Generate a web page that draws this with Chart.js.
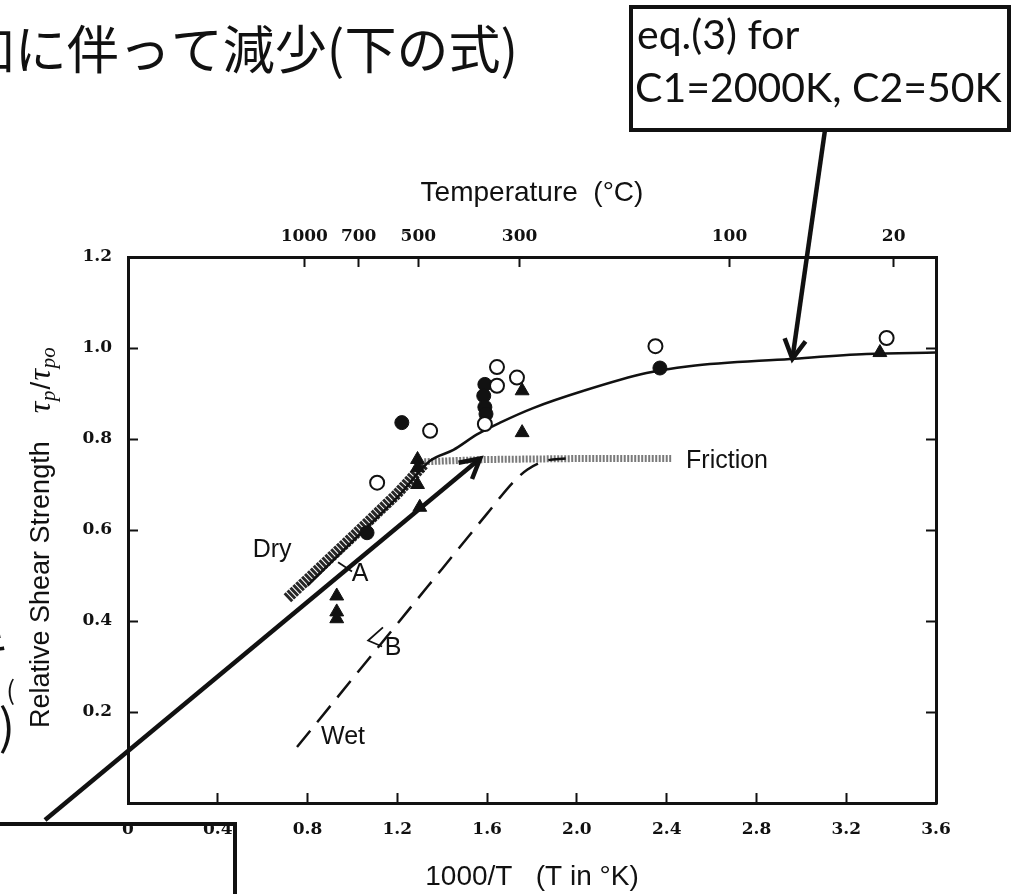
<!DOCTYPE html>
<html>
<head>
<meta charset="utf-8">
<script src="https://cdn.jsdelivr.net/npm/chart.js@4.4.0/dist/chart.umd.min.js"></script>
<style>
  html, body { margin: 0; padding: 0; background: #fff; }
  #wrap { width: 1014px; height: 894px; overflow: hidden; }
</style>
</head>
<body>
<div id="wrap"><canvas id="chart" width="1014" height="894"></canvas></div>
<script>
// axis ticks (x = 1000/T, y = tau_p / tau_p0)
const xTicks = [0, 0.4, 0.8, 1.2, 1.6, 2.0, 2.4, 2.8, 3.2, 3.6];
const xTickLabels = ['0', '0.4', '0.8', '1.2', '1.6', '2.0', '2.4', '2.8', '3.2', '3.6'];
const yTicks = [0.2, 0.4, 0.6, 0.8, 1.0, 1.2];
const yTickLabels = ['0.2', '0.4', '0.6', '0.8', '1.0', '1.2'];
const tempTicksC = [1000, 700, 500, 300, 100, 20];

// measured points
const openX = [1.11, 1.346, 1.59, 1.644, 1.644, 1.733, 2.35, 3.38];
const openY = [0.704, 0.818, 0.833, 0.958, 0.917, 0.935, 1.004, 1.022];
const filledX = [1.065, 1.22, 1.59, 1.585, 1.59, 1.595, 2.37];
const filledY = [0.594, 0.836, 0.92, 0.895, 0.87, 0.855, 0.956];
const triX = [0.93, 0.93, 0.93, 1.29, 1.29, 1.30, 1.29, 1.756, 1.756, 3.35];
const triY = [0.455, 0.42, 0.405, 0.755, 0.70, 0.65, 0.737, 0.906, 0.814, 0.99];

// curve A (eq.3), curve B (wet), dry / friction bands
const curveAX = [0.80, 1.0, 1.2, 1.346, 1.45, 1.555, 1.658, 1.805, 2.03, 2.31, 2.5, 2.95, 3.29, 3.6];
const curveAY = [0.478, 0.575, 0.672, 0.752, 0.776, 0.81, 0.836, 0.868, 0.906, 0.945, 0.96, 0.976, 0.987, 0.99];
const curveBX = [0.753, 1.0, 1.2, 1.4, 1.6, 1.716, 1.78, 1.86, 1.95];
const curveBY = [0.123, 0.273, 0.394, 0.515, 0.636, 0.705, 0.733, 0.752, 0.757];
const dryX = [0.71, 1.0, 1.2, 1.32];
const dryY = [0.45, 0.585, 0.68, 0.745];
const frictionX = [1.32, 1.6, 2.0, 2.42];
const frictionY = [0.75, 0.755, 0.757, 0.757];

// text on the curves
const curveLabels = [
  { text: 'Dry', x: 0.642, y: 0.555 },
  { text: 'A', x: 1.034, y: 0.504 },
  { text: 'B', x: 1.181, y: 0.340 },
  { text: 'Wet', x: 0.958, y: 0.145 },
  { text: 'Friction', x: 2.669, y: 0.752 }
];
const leaderA = [[0.936, 0.529], [0.998, 0.509]];
const leaderB = [[1.136, 0.386], [1.07, 0.357], [1.132, 0.344]];
const arrowTipEq = [2.96, 0.976];
const arrowTipFriction = [1.569, 0.757];

const pts = (xs, ys) => xs.map((v, i) => ({ x: v, y: ys[i] }));
const ink = '#111';
const tickFont = { family: 'DejaVu Serif', size: 17, weight: 'bold' };
const titleFont = { family: 'Liberation Sans', size: 28 };

function inwardGrid() {
  return { drawOnChartArea: false, drawTicks: true, tickLength: -10, tickWidth: 2, tickColor: ink };
}
const frame = { display: true, color: ink, width: 3 };

function drawArrow(ctx, x1, y1, x2, y2) {
  ctx.beginPath();
  ctx.moveTo(x1, y1);
  ctx.lineTo(x2, y2);
  ctx.stroke();
  const a = Math.atan2(y2 - y1, x2 - x1);
  const len = 22;
  ctx.beginPath();
  ctx.moveTo(x2 - len * Math.cos(a - 0.5), y2 - len * Math.sin(a - 0.5));
  ctx.lineTo(x2, y2);
  ctx.lineTo(x2 - len * Math.cos(a + 0.5), y2 - len * Math.sin(a + 0.5));
  ctx.stroke();
}

const overlay = {
  id: 'overlay',
  afterDraw(chart) {
    const { ctx, scales: { x, y } } = chart;
    const px = v => x.getPixelForValue(v);
    const py = v => y.getPixelForValue(v);
    ctx.save();
    ctx.fillStyle = ink;
    ctx.strokeStyle = ink;

    // labels on the curves
    ctx.font = '25px "Liberation Sans"';
    ctx.textAlign = 'center';
    ctx.textBaseline = 'middle';
    curveLabels.forEach(l => ctx.fillText(l.text, px(l.x), py(l.y)));
    ctx.lineWidth = 1.8;
    [leaderA, leaderB].forEach(seg => {
      ctx.beginPath();
      seg.forEach((p, i) => i ? ctx.lineTo(px(p[0]), py(p[1])) : ctx.moveTo(px(p[0]), py(p[1])));
      ctx.stroke();
    });

    // y axis title with tau_p / tau_p0
    ctx.save();
    ctx.translate(42, 728);
    ctx.rotate(-Math.PI / 2);
    ctx.textAlign = 'left';
    ctx.textBaseline = 'middle';
    ctx.font = '27px "Liberation Sans"';
    const main = 'Relative Shear Strength';
    ctx.fillText(main, 0, 0);
    let cx = ctx.measureText(main).width + 28;
    const parts = [
      ['τ', 'italic 32px "Liberation Serif"', 0],
      ['p', 'italic 21px "Liberation Serif"', 7],
      ['/', '28px "Liberation Sans"', 0],
      ['τ', 'italic 32px "Liberation Serif"', 0],
      ['po', 'italic 21px "Liberation Serif"', 7]
    ];
    parts.forEach(([t, f, dy]) => {
      ctx.font = f;
      ctx.fillText(t, cx, dy);
      cx += ctx.measureText(t).width + 1;
    });
    ctx.restore();

    // slide text above the chart
    ctx.font = '52px "Noto Sans CJK JP"';
    ctx.textAlign = 'right';
    ctx.textBaseline = 'alphabetic';
    ctx.fillText('加に伴って減少(下の式)', 518, 69);

    // cut-off slide text at the left edge
    ctx.font = '44px "Noto Sans CJK JP"';
    ctx.fillText('キ', 9, 664);
    ctx.font = '26px "Noto Sans CJK JP"';
    ctx.fillText('(', 15, 700);
    ctx.font = '48px "Noto Sans CJK JP"';
    ctx.fillText(')', 15, 744);

    // boxes
    ctx.lineWidth = 4;
    ctx.strokeRect(631, 7, 378, 123);
    ctx.beginPath();
    ctx.moveTo(-5, 824);
    ctx.lineTo(235, 824);
    ctx.lineTo(235, 900);
    ctx.stroke();

    ctx.font = '41px Lato';
    ctx.textAlign = 'left';
    ctx.textBaseline = 'middle';
    ctx.fillText('eq.(3) for', 637, 36);
    ctx.fillText('C1=2000K, C2=50K', 635, 89);

    // arrows
    ctx.lineWidth = 4.5;
    ctx.lineCap = 'butt';
    drawArrow(ctx, 825, 130, px(arrowTipEq[0]), py(arrowTipEq[1]));
    drawArrow(ctx, 45, 820, px(arrowTipFriction[0]), py(arrowTipFriction[1]));
    ctx.restore();
  }
};

new Chart(document.getElementById('chart'), {
  type: 'scatter',
  data: {
    datasets: [
      { data: pts(openX, openY), pointStyle: 'circle', pointRadius: 7, pointBackgroundColor: '#fff', pointBorderColor: ink, pointBorderWidth: 2 },
      { data: pts(filledX, filledY), pointStyle: 'circle', pointRadius: 7, pointBackgroundColor: ink, pointBorderColor: ink, pointBorderWidth: 1 },
      { data: pts(triX, triY), pointStyle: 'triangle', pointRadius: 8, pointBackgroundColor: ink, pointBorderColor: ink, pointBorderWidth: 1 },
      { data: pts(curveAX, curveAY), showLine: true, pointRadius: 0, borderColor: ink, borderWidth: 2.5, cubicInterpolationMode: 'monotone' },
      { data: pts(curveBX, curveBY), showLine: true, pointRadius: 0, borderColor: ink, borderWidth: 2.5, borderDash: [21, 11], cubicInterpolationMode: 'monotone' },
      { data: pts(dryX, dryY), showLine: true, pointRadius: 0, borderColor: 'rgba(15,15,15,0.9)', borderWidth: 11, borderDash: [3, 1] },
      { data: pts(frictionX, frictionY), showLine: true, pointRadius: 0, borderColor: 'rgba(50,50,50,0.65)', borderWidth: 7, borderDash: [2, 1.5] }
    ]
  },
  options: {
    responsive: false,
    animation: false,
    devicePixelRatio: 1,
    layout: { padding: 0 },
    plugins: { legend: { display: false }, tooltip: { enabled: false } },
    scales: {
      x: {
        type: 'linear', position: 'bottom', min: 0, max: 3.6,
        afterBuildTicks: s => { s.ticks = xTicks.map(v => ({ value: v })); },
        afterFit: s => { s.height = 91; },
        ticks: { callback: (v, i) => xTickLabels[i], font: tickFont, color: ink, padding: 26, maxRotation: 0, autoSkip: false },
        grid: inwardGrid(),
        border: frame,
        title: { display: true, text: '1000/T   (T in °K)', font: titleFont, color: ink, padding: { top: 0, bottom: 0 } }
      },
      x2: {
        type: 'linear', position: 'top', min: 0, max: 3.6,
        afterBuildTicks: s => { s.ticks = tempTicksC.map(c => ({ value: 1000 / (c + 273.15) })); },
        afterFit: s => { s.height = 257; },
        ticks: { callback: (v, i) => String(tempTicksC[i]), font: tickFont, color: ink, padding: 20, maxRotation: 0, autoSkip: false },
        grid: inwardGrid(),
        border: frame,
        title: { display: true, text: 'Temperature  (°C)', font: titleFont, color: ink, padding: { top: 176, bottom: 0 } }
      },
      y: {
        type: 'linear', position: 'left', min: 0, max: 1.2,
        afterBuildTicks: s => { s.ticks = yTicks.map(v => ({ value: v })); },
        afterFit: s => { s.width = 128; },
        ticks: { callback: (v, i) => yTickLabels[i], font: tickFont, color: ink, padding: 26, autoSkip: false },
        grid: inwardGrid(),
        border: frame
      },
      y2: {
        type: 'linear', position: 'right', min: 0, max: 1.2,
        afterBuildTicks: s => { s.ticks = yTicks.map(v => ({ value: v })); },
        afterFit: s => { s.width = 78; },
        ticks: { display: false },
        grid: inwardGrid(),
        border: frame
      }
    }
  },
  plugins: [overlay]
});
</script>
</body>
</html>
